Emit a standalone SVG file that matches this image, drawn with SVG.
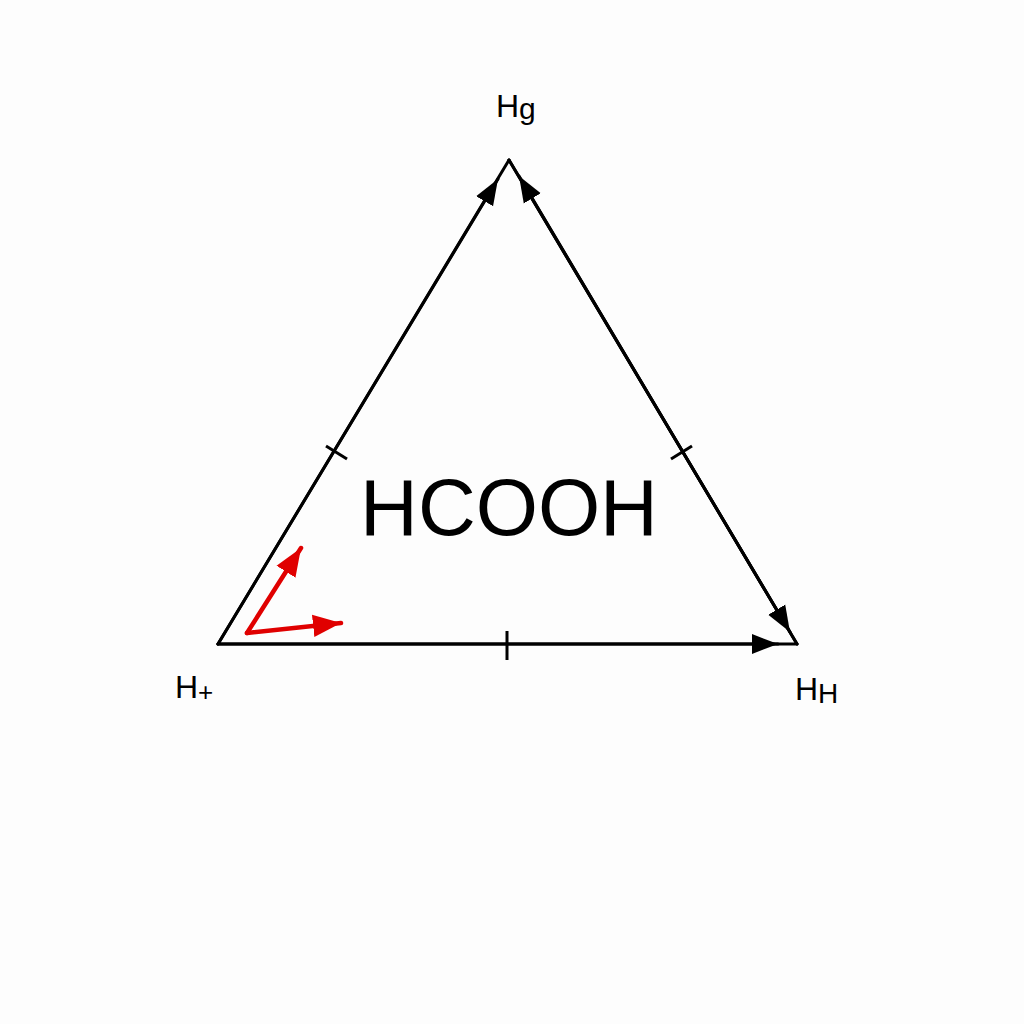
<svg xmlns="http://www.w3.org/2000/svg" width="1024" height="1024" viewBox="0 0 1024 1024">
<defs>
<marker id="ab" viewBox="0 0 10 10" refX="10" refY="5" markerWidth="26" markerHeight="26" markerUnits="userSpaceOnUse" orient="auto"><path d="M0,1.2 L10,5 L0,8.8 Z" fill="#000"/></marker>
<marker id="ar" viewBox="0 0 10 10" refX="10" refY="5" markerWidth="28" markerHeight="28" markerUnits="userSpaceOnUse" orient="auto"><path d="M0,1 L10,5 L0,9 Z" fill="#e00000"/></marker>
<style>
.e{stroke:#000;stroke-width:3;fill:none;stroke-linecap:round}
.t{stroke:#000;stroke-width:3}
.r{stroke:#e00000;stroke-width:4.5;fill:none;stroke-linecap:round}
.lbl{font-family:"Liberation Sans",Arial,sans-serif;fill:#000}
</style>
</defs>
<rect width="1024" height="1024" fill="#fdfdfd"/>
<g id="connectors">
<line class="e" x1="218" y1="644" x2="509" y2="160"/>
<line class="e" x1="509" y1="160" x2="797" y2="644"/>
<line class="e" x1="218" y1="644" x2="797" y2="644"/>
<line class="e" x1="218" y1="644" x2="498" y2="179" marker-end="url(#ab)"/>
<line class="e" x1="797" y1="644" x2="519" y2="176" marker-end="url(#ab)"/>
<line class="e" x1="509" y1="160" x2="790" y2="632" marker-end="url(#ab)"/>
<line class="e" x1="218" y1="644" x2="778" y2="644" marker-end="url(#ab)"/>
<line class="t" x1="326" y1="446" x2="347" y2="459"/>
<line class="t" x1="671" y1="459" x2="692" y2="446"/>
<line class="t" x1="507" y1="631" x2="507" y2="660"/>
<line class="r" x1="247" y1="633" x2="301" y2="548" marker-end="url(#ar)"/>
<line class="r" x1="247" y1="633" x2="341" y2="623" marker-end="url(#ar)"/>
</g>
<g id="node-top"><text class="lbl" x="496" y="117" font-size="32">H<tspan font-size="30" dy="2">g</tspan></text></g>
<g id="node-left"><text class="lbl" x="175" y="698" font-size="32">H<tspan font-size="26" dy="3">+</tspan></text></g>
<g id="node-right"><text class="lbl" x="795" y="700" font-size="32">H<tspan font-size="28" dy="3">H</tspan></text></g>
<g id="node-center"><text class="lbl" x="509" y="535" font-size="80" text-anchor="middle">HCOOH</text></g>
</svg>
